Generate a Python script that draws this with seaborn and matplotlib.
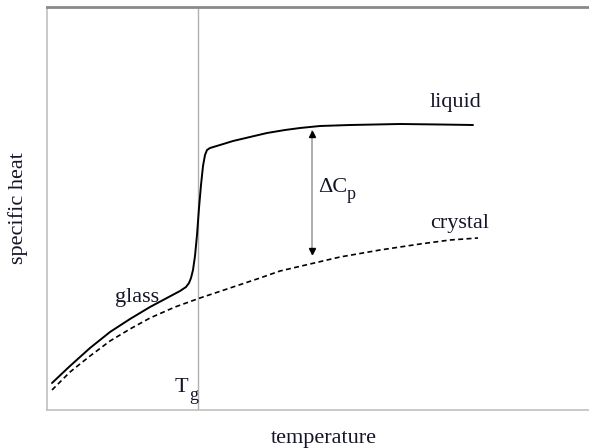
import matplotlib
matplotlib.use("Agg")
import matplotlib.pyplot as plt
import seaborn as sns
import pandas as pd

# data (x = temperature position, y = specific heat, in picture units)
glass_liquid_x = [52, 70, 90, 110, 130, 150, 165, 180, 186, 189, 191, 193, 195, 197, 199,
                  201, 203, 205, 207, 210, 220, 233, 250, 267, 285, 300, 320, 350, 400, 440, 473]
glass_liquid_y = [383, 366, 348, 332, 319, 307, 299, 291, 287, 283, 278, 270, 256, 235, 208,
                  185, 166, 155, 150, 148, 145, 141, 137, 133, 130, 128, 126, 125, 124, 124.5, 125]
crystal_x = [52, 70, 90, 110, 130, 150, 175, 200, 230, 260, 280, 310, 340, 380, 420, 450, 478]
crystal_y = [390, 372, 356, 341, 329, 318, 307, 298, 288, 278, 271, 264, 257, 250, 244, 240, 238]
tg_x = 198
dcp_x = 312
dcp_top = 131
dcp_bottom = 254

H = 448
sns.set_theme(style="white")
plt.rcParams['font.family'] = ['Liberation Serif', 'DejaVu Serif']

fig = plt.figure(figsize=(5.89, 4.48), dpi=100)
ax = fig.add_axes([47/589, (H-410)/H, (600-47)/589, (410-7)/H])

df_l = pd.DataFrame({"x": glass_liquid_x, "y": [H - v for v in glass_liquid_y]})
df_c = pd.DataFrame({"x": crystal_x, "y": [H - v for v in crystal_y]})

sns.lineplot(data=df_l, x="x", y="y", ax=ax, color="black", lw=1.4, sort=False)
sns.lineplot(data=df_c, x="x", y="y", ax=ax, color="black", lw=1.2, sort=False,
             linestyle=(0, (3, 2)))

ax.axvline(tg_x, color="#b0b0b0", lw=1.0, zorder=0)

# delta Cp arrow
ax.plot([dcp_x, dcp_x], [H - dcp_top, H - dcp_bottom], color="#a0a0a0", lw=1.2)
ax.plot([dcp_x], [H - dcp_top - 3], marker="^", color="black", ms=5, lw=0)
ax.plot([dcp_x], [H - dcp_bottom + 3], marker="v", color="black", ms=5, lw=0)

tc = "#15152a"
fs = 16
fss = 13
ax.text(430, H - 107, "liquid", fontsize=fs, color=tc, va="baseline", ha="left")
ax.text(430, H - 228, "crystal", fontsize=fs, color=tc, va="baseline", ha="left")
ax.text(115, H - 302, "glass", fontsize=fs, color=tc, va="baseline", ha="left")
ax.text(318, H - 192, "\u0394C", fontsize=fs, color=tc, va="baseline", ha="left")
ax.text(347, H - 199, "p", fontsize=fss, color=tc, va="baseline", ha="left")
ax.text(175, H - 392, "T", fontsize=fs, color=tc, va="baseline", ha="left")
ax.text(189, H - 400, "g", fontsize=fss, color=tc, va="baseline", ha="left")

ax.set_xlim(47, 600)
ax.set_ylim(H - 410, H - 7)
ax.set_xticks([])
ax.set_yticks([])
ax.set_xlabel("temperature", fontsize=fs, color=tc, labelpad=14)
ax.set_ylabel("specific heat", fontsize=fs, color=tc, labelpad=14)

for s in ["left", "bottom"]:
    ax.spines[s].set_color("#c0c0c0")
    ax.spines[s].set_linewidth(1.2)
ax.spines["top"].set_color("#8a8a8a")
ax.spines["top"].set_linewidth(2.0)
ax.spines["right"].set_visible(False)

fig.savefig("out.png", dpi=100)
